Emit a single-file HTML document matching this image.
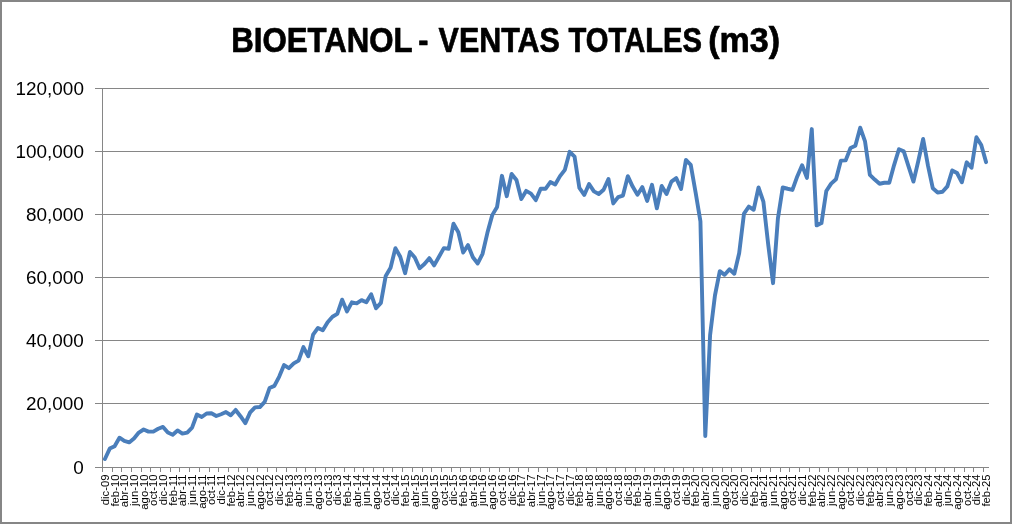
<!DOCTYPE html>
<html lang="es"><head><meta charset="utf-8"><title>BIOETANOL - VENTAS TOTALES (m3)</title>
<style>html,body{margin:0;padding:0;background:#fff;overflow:hidden}svg{display:block}.t{font-family:"Liberation Sans",sans-serif;font-weight:bold;font-size:34.4px;fill:#000;stroke:#000;stroke-width:0.7px;stroke-linejoin:round}.y{font-family:"Liberation Sans",sans-serif;font-size:18px;fill:#000;text-anchor:end}.x{font-family:"Liberation Sans",sans-serif;font-size:11.3px;fill:#000;text-anchor:end}</style></head><body>
<svg width="1012" height="524" viewBox="0 0 1012 524">
<rect x="0" y="0" width="1012" height="524" fill="#fff"/>
<rect x="1" y="1" width="1010" height="522" fill="none" stroke="#868686" stroke-width="2"/>
<path d="M95 467.5H989.0M95 403.5H989.0M95 340.5H989.0M95 277.5H989.0M95 214.5H989.0M95 151.5H989.0M95 88.5H989.0" stroke="#868686" stroke-width="1" fill="none" shape-rendering="crispEdges"/>
<path d="M102.5 88.0V472.0" stroke="#868686" stroke-width="1" fill="none" shape-rendering="crispEdges"/>
<path d="M112.5 467.5V472.0M121.5 467.5V472.0M131.5 467.5V472.0M141.5 467.5V472.0M150.5 467.5V472.0M160.5 467.5V472.0M170.5 467.5V472.0M179.5 467.5V472.0M189.5 467.5V472.0M199.5 467.5V472.0M209.5 467.5V472.0M218.5 467.5V472.0M228.5 467.5V472.0M238.5 467.5V472.0M247.5 467.5V472.0M257.5 467.5V472.0M267.5 467.5V472.0M276.5 467.5V472.0M286.5 467.5V472.0M296.5 467.5V472.0M305.5 467.5V472.0M315.5 467.5V472.0M325.5 467.5V472.0M334.5 467.5V472.0M344.5 467.5V472.0M354.5 467.5V472.0M363.5 467.5V472.0M373.5 467.5V472.0M383.5 467.5V472.0M392.5 467.5V472.0M402.5 467.5V472.0M412.5 467.5V472.0M422.5 467.5V472.0M431.5 467.5V472.0M441.5 467.5V472.0M451.5 467.5V472.0M460.5 467.5V472.0M470.5 467.5V472.0M480.5 467.5V472.0M489.5 467.5V472.0M499.5 467.5V472.0M509.5 467.5V472.0M518.5 467.5V472.0M528.5 467.5V472.0M538.5 467.5V472.0M547.5 467.5V472.0M557.5 467.5V472.0M567.5 467.5V472.0M576.5 467.5V472.0M586.5 467.5V472.0M596.5 467.5V472.0M606.5 467.5V472.0M615.5 467.5V472.0M625.5 467.5V472.0M635.5 467.5V472.0M644.5 467.5V472.0M654.5 467.5V472.0M664.5 467.5V472.0M673.5 467.5V472.0M683.5 467.5V472.0M693.5 467.5V472.0M702.5 467.5V472.0M712.5 467.5V472.0M722.5 467.5V472.0M731.5 467.5V472.0M741.5 467.5V472.0M751.5 467.5V472.0M760.5 467.5V472.0M770.5 467.5V472.0M780.5 467.5V472.0M789.5 467.5V472.0M799.5 467.5V472.0M809.5 467.5V472.0M819.5 467.5V472.0M828.5 467.5V472.0M838.5 467.5V472.0M848.5 467.5V472.0M857.5 467.5V472.0M867.5 467.5V472.0M877.5 467.5V472.0M886.5 467.5V472.0M896.5 467.5V472.0M906.5 467.5V472.0M915.5 467.5V472.0M925.5 467.5V472.0M935.5 467.5V472.0M944.5 467.5V472.0M954.5 467.5V472.0M964.5 467.5V472.0M973.5 467.5V472.0M983.5 467.5V472.0" stroke="#868686" stroke-width="1" fill="none" shape-rendering="crispEdges"/>
<polyline points="104.92,458.97 109.76,448.62 114.60,446.21 119.45,437.69 124.29,440.97 129.13,442.39 133.97,438.44 138.81,432.56 143.65,429.49 148.49,431.61 153.34,431.61 158.18,428.77 163.02,426.93 167.86,432.59 172.70,434.77 177.54,430.47 182.39,433.60 187.23,432.59 192.07,427.63 196.91,414.55 201.75,416.99 206.59,413.45 211.43,413.29 216.28,415.98 221.12,414.24 225.96,412.09 230.80,415.25 235.64,409.94 240.48,416.24 245.33,423.11 250.17,412.37 255.01,407.37 259.85,407.07 264.69,401.92 269.53,388.02 274.37,385.88 279.22,376.59 284.06,365.01 288.90,368.17 293.74,363.43 298.58,360.56 303.42,347.13 308.27,356.29 313.11,334.63 317.95,327.90 322.79,330.33 327.63,322.18 332.47,316.72 337.31,313.88 342.16,299.70 347.00,311.44 351.84,302.29 356.68,303.30 361.52,300.15 366.36,302.29 371.20,294.27 376.05,308.29 380.89,302.86 385.73,275.92 390.57,267.77 395.41,248.13 400.25,256.75 405.10,273.20 409.94,252.01 414.78,257.44 419.62,268.18 424.46,263.92 429.30,258.17 434.14,265.34 438.99,256.75 443.83,248.13 448.67,248.76 453.51,223.66 458.35,232.19 463.19,252.55 468.04,245.14 472.88,257.29 477.72,263.48 482.56,253.81 487.40,232.82 492.24,215.13 497.08,206.92 501.93,175.82 506.77,196.18 511.61,173.92 516.45,179.93 521.29,199.02 526.13,190.91 530.98,193.66 535.82,200.07 540.66,188.82 545.50,188.82 550.34,182.07 555.18,184.50 560.02,176.13 564.87,169.82 569.71,151.82 574.55,156.65 579.39,187.97 584.23,194.92 589.07,183.96 593.92,191.39 598.76,194.03 603.60,189.68 608.44,178.98 613.28,203.41 618.12,197.13 622.96,195.55 627.81,176.17 632.65,186.58 637.49,194.82 642.33,187.15 647.17,200.89 652.01,184.87 656.86,208.34 661.70,186.01 666.54,194.03 671.38,181.60 676.22,178.12 681.06,188.85 685.90,159.96 690.75,164.83 695.59,192.39 700.43,221.35 705.27,436.07 710.11,335.00 714.95,295.50 719.80,271.18 724.64,274.82 729.48,269.29 734.32,273.77 739.16,253.18 744.00,213.55 748.84,206.60 753.69,209.76 758.53,187.50 763.37,201.55 768.21,244.50 773.05,283.19 777.89,218.61 782.73,187.50 787.58,188.76 792.42,189.90 797.26,176.45 802.10,165.24 806.94,177.87 811.78,129.08 816.63,225.36 821.47,223.09 826.31,191.03 831.15,183.60 835.99,179.20 840.83,160.66 845.67,160.37 850.52,147.96 855.36,145.81 860.20,127.65 865.04,141.42 869.88,174.87 874.72,179.55 879.57,183.74 884.41,182.77 889.25,182.77 894.09,165.08 898.93,149.23 903.77,151.34 908.61,166.66 913.46,181.60 918.30,160.97 923.14,139.02 927.98,165.71 932.82,188.29 937.66,192.55 942.51,191.76 947.35,186.39 952.19,170.45 957.03,173.01 961.87,182.29 966.71,162.33 971.55,167.70 976.40,137.19 981.24,144.96 986.08,162.14" fill="none" stroke="#4a7ebb" stroke-width="3.9" stroke-linejoin="round" stroke-linecap="round"/>
<text class="t" y="51.75"><tspan x="231.26" textLength="180.85" lengthAdjust="spacingAndGlyphs">BIOETANOL</tspan> <tspan x="418.15" textLength="10.17" lengthAdjust="spacingAndGlyphs">-</tspan> <tspan x="438.61" textLength="121.30" lengthAdjust="spacingAndGlyphs">VENTAS</tspan> <tspan x="568.50" textLength="133.53" lengthAdjust="spacingAndGlyphs">TOTALES</tspan> <tspan x="708.25" textLength="71.85" lengthAdjust="spacingAndGlyphs">(m3)</tspan></text>
<text class="y" x="83.9" y="473.8" textLength="10.51" lengthAdjust="spacingAndGlyphs">0</text>
<text class="y" x="83.9" y="409.8" textLength="57.81" lengthAdjust="spacingAndGlyphs">20,000</text>
<text class="y" x="83.9" y="346.8" textLength="57.81" lengthAdjust="spacingAndGlyphs">40,000</text>
<text class="y" x="83.9" y="283.8" textLength="57.81" lengthAdjust="spacingAndGlyphs">60,000</text>
<text class="y" x="83.9" y="220.8" textLength="57.81" lengthAdjust="spacingAndGlyphs">80,000</text>
<text class="y" x="83.9" y="157.8" textLength="68.32" lengthAdjust="spacingAndGlyphs">100,000</text>
<text class="y" x="83.9" y="94.8" textLength="68.32" lengthAdjust="spacingAndGlyphs">120,000</text>
<text class="x" transform="translate(108.82 474.5) rotate(-90)" x="0" y="0" text-anchor="start" style="text-anchor:end">dic-09</text>
<text class="x" transform="translate(118.50 474.5) rotate(-90)" x="0" y="0" text-anchor="start" style="text-anchor:end">feb-10</text>
<text class="x" transform="translate(128.19 474.5) rotate(-90)" x="0" y="0" text-anchor="start" style="text-anchor:end">abr-10</text>
<text class="x" transform="translate(137.87 474.5) rotate(-90)" x="0" y="0" text-anchor="start" style="text-anchor:end">jun-10</text>
<text class="x" transform="translate(147.55 474.5) rotate(-90)" x="0" y="0" text-anchor="start" style="text-anchor:end">ago-10</text>
<text class="x" transform="translate(157.24 474.5) rotate(-90)" x="0" y="0" text-anchor="start" style="text-anchor:end">oct-10</text>
<text class="x" transform="translate(166.92 474.5) rotate(-90)" x="0" y="0" text-anchor="start" style="text-anchor:end">dic-10</text>
<text class="x" transform="translate(176.60 474.5) rotate(-90)" x="0" y="0" text-anchor="start" style="text-anchor:end">feb-11</text>
<text class="x" transform="translate(186.29 474.5) rotate(-90)" x="0" y="0" text-anchor="start" style="text-anchor:end">abr-11</text>
<text class="x" transform="translate(195.97 474.5) rotate(-90)" x="0" y="0" text-anchor="start" style="text-anchor:end">jun-11</text>
<text class="x" transform="translate(205.65 474.5) rotate(-90)" x="0" y="0" text-anchor="start" style="text-anchor:end">ago-11</text>
<text class="x" transform="translate(215.33 474.5) rotate(-90)" x="0" y="0" text-anchor="start" style="text-anchor:end">oct-11</text>
<text class="x" transform="translate(225.02 474.5) rotate(-90)" x="0" y="0" text-anchor="start" style="text-anchor:end">dic-11</text>
<text class="x" transform="translate(234.70 474.5) rotate(-90)" x="0" y="0" text-anchor="start" style="text-anchor:end">feb-12</text>
<text class="x" transform="translate(244.38 474.5) rotate(-90)" x="0" y="0" text-anchor="start" style="text-anchor:end">abr-12</text>
<text class="x" transform="translate(254.07 474.5) rotate(-90)" x="0" y="0" text-anchor="start" style="text-anchor:end">jun-12</text>
<text class="x" transform="translate(263.75 474.5) rotate(-90)" x="0" y="0" text-anchor="start" style="text-anchor:end">ago-12</text>
<text class="x" transform="translate(273.43 474.5) rotate(-90)" x="0" y="0" text-anchor="start" style="text-anchor:end">oct-12</text>
<text class="x" transform="translate(283.12 474.5) rotate(-90)" x="0" y="0" text-anchor="start" style="text-anchor:end">dic-12</text>
<text class="x" transform="translate(292.80 474.5) rotate(-90)" x="0" y="0" text-anchor="start" style="text-anchor:end">feb-13</text>
<text class="x" transform="translate(302.48 474.5) rotate(-90)" x="0" y="0" text-anchor="start" style="text-anchor:end">abr-13</text>
<text class="x" transform="translate(312.17 474.5) rotate(-90)" x="0" y="0" text-anchor="start" style="text-anchor:end">jun-13</text>
<text class="x" transform="translate(321.85 474.5) rotate(-90)" x="0" y="0" text-anchor="start" style="text-anchor:end">ago-13</text>
<text class="x" transform="translate(331.53 474.5) rotate(-90)" x="0" y="0" text-anchor="start" style="text-anchor:end">oct-13</text>
<text class="x" transform="translate(341.21 474.5) rotate(-90)" x="0" y="0" text-anchor="start" style="text-anchor:end">dic-13</text>
<text class="x" transform="translate(350.90 474.5) rotate(-90)" x="0" y="0" text-anchor="start" style="text-anchor:end">feb-14</text>
<text class="x" transform="translate(360.58 474.5) rotate(-90)" x="0" y="0" text-anchor="start" style="text-anchor:end">abr-14</text>
<text class="x" transform="translate(370.26 474.5) rotate(-90)" x="0" y="0" text-anchor="start" style="text-anchor:end">jun-14</text>
<text class="x" transform="translate(379.95 474.5) rotate(-90)" x="0" y="0" text-anchor="start" style="text-anchor:end">ago-14</text>
<text class="x" transform="translate(389.63 474.5) rotate(-90)" x="0" y="0" text-anchor="start" style="text-anchor:end">oct-14</text>
<text class="x" transform="translate(399.31 474.5) rotate(-90)" x="0" y="0" text-anchor="start" style="text-anchor:end">dic-14</text>
<text class="x" transform="translate(409.00 474.5) rotate(-90)" x="0" y="0" text-anchor="start" style="text-anchor:end">feb-15</text>
<text class="x" transform="translate(418.68 474.5) rotate(-90)" x="0" y="0" text-anchor="start" style="text-anchor:end">abr-15</text>
<text class="x" transform="translate(428.36 474.5) rotate(-90)" x="0" y="0" text-anchor="start" style="text-anchor:end">jun-15</text>
<text class="x" transform="translate(438.04 474.5) rotate(-90)" x="0" y="0" text-anchor="start" style="text-anchor:end">ago-15</text>
<text class="x" transform="translate(447.73 474.5) rotate(-90)" x="0" y="0" text-anchor="start" style="text-anchor:end">oct-15</text>
<text class="x" transform="translate(457.41 474.5) rotate(-90)" x="0" y="0" text-anchor="start" style="text-anchor:end">dic-15</text>
<text class="x" transform="translate(467.09 474.5) rotate(-90)" x="0" y="0" text-anchor="start" style="text-anchor:end">feb-16</text>
<text class="x" transform="translate(476.78 474.5) rotate(-90)" x="0" y="0" text-anchor="start" style="text-anchor:end">abr-16</text>
<text class="x" transform="translate(486.46 474.5) rotate(-90)" x="0" y="0" text-anchor="start" style="text-anchor:end">jun-16</text>
<text class="x" transform="translate(496.14 474.5) rotate(-90)" x="0" y="0" text-anchor="start" style="text-anchor:end">ago-16</text>
<text class="x" transform="translate(505.83 474.5) rotate(-90)" x="0" y="0" text-anchor="start" style="text-anchor:end">oct-16</text>
<text class="x" transform="translate(515.51 474.5) rotate(-90)" x="0" y="0" text-anchor="start" style="text-anchor:end">dic-16</text>
<text class="x" transform="translate(525.19 474.5) rotate(-90)" x="0" y="0" text-anchor="start" style="text-anchor:end">feb-17</text>
<text class="x" transform="translate(534.88 474.5) rotate(-90)" x="0" y="0" text-anchor="start" style="text-anchor:end">abr-17</text>
<text class="x" transform="translate(544.56 474.5) rotate(-90)" x="0" y="0" text-anchor="start" style="text-anchor:end">jun-17</text>
<text class="x" transform="translate(554.24 474.5) rotate(-90)" x="0" y="0" text-anchor="start" style="text-anchor:end">ago-17</text>
<text class="x" transform="translate(563.92 474.5) rotate(-90)" x="0" y="0" text-anchor="start" style="text-anchor:end">oct-17</text>
<text class="x" transform="translate(573.61 474.5) rotate(-90)" x="0" y="0" text-anchor="start" style="text-anchor:end">dic-17</text>
<text class="x" transform="translate(583.29 474.5) rotate(-90)" x="0" y="0" text-anchor="start" style="text-anchor:end">feb-18</text>
<text class="x" transform="translate(592.97 474.5) rotate(-90)" x="0" y="0" text-anchor="start" style="text-anchor:end">abr-18</text>
<text class="x" transform="translate(602.66 474.5) rotate(-90)" x="0" y="0" text-anchor="start" style="text-anchor:end">jun-18</text>
<text class="x" transform="translate(612.34 474.5) rotate(-90)" x="0" y="0" text-anchor="start" style="text-anchor:end">ago-18</text>
<text class="x" transform="translate(622.02 474.5) rotate(-90)" x="0" y="0" text-anchor="start" style="text-anchor:end">oct-18</text>
<text class="x" transform="translate(631.71 474.5) rotate(-90)" x="0" y="0" text-anchor="start" style="text-anchor:end">dic-18</text>
<text class="x" transform="translate(641.39 474.5) rotate(-90)" x="0" y="0" text-anchor="start" style="text-anchor:end">feb-19</text>
<text class="x" transform="translate(651.07 474.5) rotate(-90)" x="0" y="0" text-anchor="start" style="text-anchor:end">abr-19</text>
<text class="x" transform="translate(660.76 474.5) rotate(-90)" x="0" y="0" text-anchor="start" style="text-anchor:end">jun-19</text>
<text class="x" transform="translate(670.44 474.5) rotate(-90)" x="0" y="0" text-anchor="start" style="text-anchor:end">ago-19</text>
<text class="x" transform="translate(680.12 474.5) rotate(-90)" x="0" y="0" text-anchor="start" style="text-anchor:end">oct-19</text>
<text class="x" transform="translate(689.80 474.5) rotate(-90)" x="0" y="0" text-anchor="start" style="text-anchor:end">dic-19</text>
<text class="x" transform="translate(699.49 474.5) rotate(-90)" x="0" y="0" text-anchor="start" style="text-anchor:end">feb-20</text>
<text class="x" transform="translate(709.17 474.5) rotate(-90)" x="0" y="0" text-anchor="start" style="text-anchor:end">abr-20</text>
<text class="x" transform="translate(718.85 474.5) rotate(-90)" x="0" y="0" text-anchor="start" style="text-anchor:end">jun-20</text>
<text class="x" transform="translate(728.54 474.5) rotate(-90)" x="0" y="0" text-anchor="start" style="text-anchor:end">ago-20</text>
<text class="x" transform="translate(738.22 474.5) rotate(-90)" x="0" y="0" text-anchor="start" style="text-anchor:end">oct-20</text>
<text class="x" transform="translate(747.90 474.5) rotate(-90)" x="0" y="0" text-anchor="start" style="text-anchor:end">dic-20</text>
<text class="x" transform="translate(757.59 474.5) rotate(-90)" x="0" y="0" text-anchor="start" style="text-anchor:end">feb-21</text>
<text class="x" transform="translate(767.27 474.5) rotate(-90)" x="0" y="0" text-anchor="start" style="text-anchor:end">abr-21</text>
<text class="x" transform="translate(776.95 474.5) rotate(-90)" x="0" y="0" text-anchor="start" style="text-anchor:end">jun-21</text>
<text class="x" transform="translate(786.63 474.5) rotate(-90)" x="0" y="0" text-anchor="start" style="text-anchor:end">ago-21</text>
<text class="x" transform="translate(796.32 474.5) rotate(-90)" x="0" y="0" text-anchor="start" style="text-anchor:end">oct-21</text>
<text class="x" transform="translate(806.00 474.5) rotate(-90)" x="0" y="0" text-anchor="start" style="text-anchor:end">dic-21</text>
<text class="x" transform="translate(815.68 474.5) rotate(-90)" x="0" y="0" text-anchor="start" style="text-anchor:end">feb-22</text>
<text class="x" transform="translate(825.37 474.5) rotate(-90)" x="0" y="0" text-anchor="start" style="text-anchor:end">abr-22</text>
<text class="x" transform="translate(835.05 474.5) rotate(-90)" x="0" y="0" text-anchor="start" style="text-anchor:end">jun-22</text>
<text class="x" transform="translate(844.73 474.5) rotate(-90)" x="0" y="0" text-anchor="start" style="text-anchor:end">ago-22</text>
<text class="x" transform="translate(854.42 474.5) rotate(-90)" x="0" y="0" text-anchor="start" style="text-anchor:end">oct-22</text>
<text class="x" transform="translate(864.10 474.5) rotate(-90)" x="0" y="0" text-anchor="start" style="text-anchor:end">dic-22</text>
<text class="x" transform="translate(873.78 474.5) rotate(-90)" x="0" y="0" text-anchor="start" style="text-anchor:end">feb-23</text>
<text class="x" transform="translate(883.47 474.5) rotate(-90)" x="0" y="0" text-anchor="start" style="text-anchor:end">abr-23</text>
<text class="x" transform="translate(893.15 474.5) rotate(-90)" x="0" y="0" text-anchor="start" style="text-anchor:end">jun-23</text>
<text class="x" transform="translate(902.83 474.5) rotate(-90)" x="0" y="0" text-anchor="start" style="text-anchor:end">ago-23</text>
<text class="x" transform="translate(912.51 474.5) rotate(-90)" x="0" y="0" text-anchor="start" style="text-anchor:end">oct-23</text>
<text class="x" transform="translate(922.20 474.5) rotate(-90)" x="0" y="0" text-anchor="start" style="text-anchor:end">dic-23</text>
<text class="x" transform="translate(931.88 474.5) rotate(-90)" x="0" y="0" text-anchor="start" style="text-anchor:end">feb-24</text>
<text class="x" transform="translate(941.56 474.5) rotate(-90)" x="0" y="0" text-anchor="start" style="text-anchor:end">abr-24</text>
<text class="x" transform="translate(951.25 474.5) rotate(-90)" x="0" y="0" text-anchor="start" style="text-anchor:end">jun-24</text>
<text class="x" transform="translate(960.93 474.5) rotate(-90)" x="0" y="0" text-anchor="start" style="text-anchor:end">ago-24</text>
<text class="x" transform="translate(970.61 474.5) rotate(-90)" x="0" y="0" text-anchor="start" style="text-anchor:end">oct-24</text>
<text class="x" transform="translate(980.30 474.5) rotate(-90)" x="0" y="0" text-anchor="start" style="text-anchor:end">dic-24</text>
<text class="x" transform="translate(989.98 474.5) rotate(-90)" x="0" y="0" text-anchor="start" style="text-anchor:end">feb-25</text>
</svg></body></html>
